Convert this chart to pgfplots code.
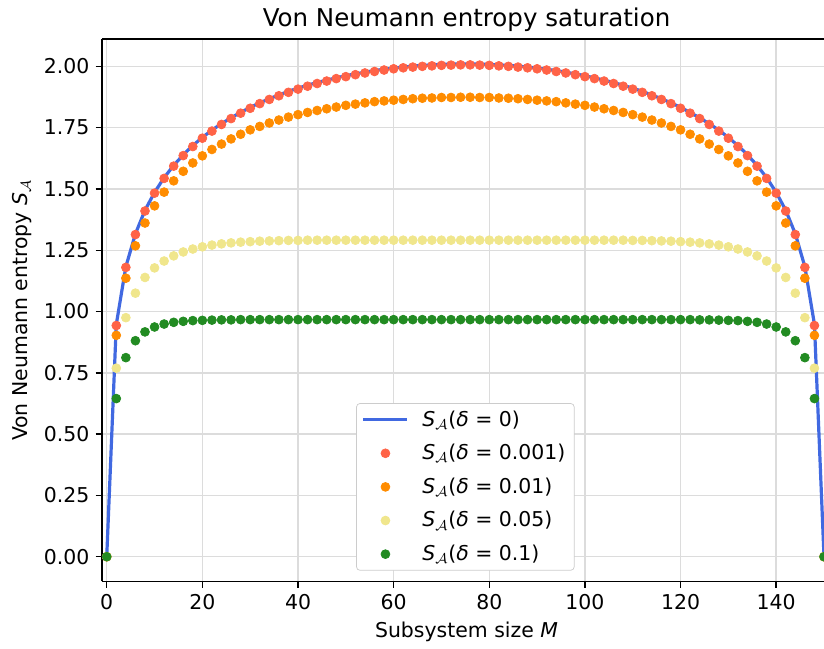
\documentclass[border=0pt]{standalone}
\usepackage{fontspec}
\setmainfont{DejaVu Sans}
\usepackage{pgfplots}
\usepackage{pgfplotstable}
\pgfplotsset{compat=1.18}
\definecolor{royalblue}{HTML}{4169E1}
\definecolor{tomato}{HTML}{FF6347}
\definecolor{darkorange}{HTML}{FF8C00}
\definecolor{khaki}{HTML}{F0E68C}
\definecolor{forestgreen}{HTML}{228B22}
\definecolor{gridgray}{HTML}{DCDCDC}

\pgfplotstableread{
M s0 s1 s2 s3 s4
0 0 0 0 0 0
2 0.948 0.943 0.903 0.769 0.645
4 1.183 1.180 1.136 0.975 0.812
6 1.317 1.314 1.268 1.075 0.881
8 1.413 1.410 1.361 1.139 0.917
10 1.486 1.483 1.431 1.178 0.937
12 1.546 1.543 1.487 1.206 0.949
14 1.596 1.593 1.533 1.227 0.956
16 1.639 1.636 1.572 1.243 0.960
18 1.677 1.673 1.606 1.255 0.963
20 1.710 1.707 1.635 1.264 0.964
22 1.740 1.736 1.661 1.271 0.965
24 1.766 1.763 1.683 1.276 0.966
26 1.790 1.787 1.704 1.280 0.966
28 1.812 1.809 1.723 1.283 0.967
30 1.833 1.829 1.741 1.285 0.967
32 1.851 1.848 1.755 1.287 0.967
34 1.868 1.865 1.769 1.288 0.967
36 1.883 1.880 1.781 1.289 0.967
38 1.898 1.894 1.793 1.290 0.967
40 1.911 1.907 1.803 1.290 0.967
42 1.923 1.919 1.812 1.291 0.967
44 1.934 1.930 1.820 1.291 0.967
46 1.944 1.940 1.827 1.291 0.967
48 1.953 1.950 1.834 1.291 0.967
50 1.962 1.958 1.841 1.291 0.967
52 1.969 1.966 1.846 1.291 0.967
54 1.976 1.973 1.851 1.291 0.967
56 1.983 1.979 1.856 1.291 0.967
58 1.988 1.985 1.859 1.291 0.967
60 1.993 1.990 1.862 1.291 0.967
62 1.997 1.994 1.865 1.291 0.967
64 2.001 1.997 1.868 1.291 0.967
66 2.004 2.000 1.870 1.291 0.967
68 2.006 2.002 1.871 1.291 0.967
70 2.008 2.004 1.873 1.291 0.967
72 2.009 2.005 1.873 1.291 0.967
74 2.010 2.006 1.874 1.291 0.967
76 2.010 2.006 1.874 1.291 0.967
78 2.009 2.005 1.873 1.291 0.967
80 2.008 2.004 1.873 1.291 0.967
82 2.006 2.002 1.871 1.291 0.967
84 2.004 2.000 1.870 1.291 0.967
86 2.001 1.997 1.868 1.291 0.967
88 1.997 1.994 1.865 1.291 0.967
90 1.993 1.990 1.862 1.291 0.967
92 1.988 1.985 1.859 1.291 0.967
94 1.983 1.979 1.856 1.291 0.967
96 1.976 1.973 1.851 1.291 0.967
98 1.969 1.966 1.846 1.291 0.967
100 1.962 1.958 1.841 1.291 0.967
102 1.953 1.950 1.834 1.291 0.967
104 1.944 1.940 1.827 1.291 0.967
106 1.934 1.930 1.820 1.291 0.967
108 1.923 1.919 1.812 1.291 0.967
110 1.911 1.907 1.803 1.290 0.967
112 1.898 1.894 1.793 1.290 0.967
114 1.883 1.880 1.781 1.289 0.967
116 1.868 1.865 1.769 1.288 0.967
118 1.851 1.848 1.755 1.287 0.967
120 1.833 1.829 1.741 1.285 0.967
122 1.812 1.809 1.723 1.283 0.967
124 1.790 1.787 1.704 1.280 0.966
126 1.766 1.763 1.683 1.276 0.966
128 1.740 1.736 1.661 1.271 0.965
130 1.710 1.707 1.635 1.264 0.964
132 1.677 1.673 1.606 1.255 0.963
134 1.639 1.636 1.572 1.243 0.960
136 1.596 1.593 1.533 1.227 0.956
138 1.546 1.543 1.487 1.206 0.949
140 1.486 1.483 1.431 1.178 0.937
142 1.413 1.410 1.361 1.139 0.917
144 1.317 1.314 1.268 1.075 0.881
146 1.183 1.180 1.136 0.975 0.812
148 0.948 0.943 0.903 0.769 0.645
150 0 0 0 0 0
}\datatable

\begin{document}
\begin{tikzpicture}
\begin{axis}[
  scale only axis,
  width=406.5pt, height=305.2pt,
  xmin=-1, xmax=150, ymin=-0.1005, ymax=2.1105,
  axis x line*=box, axis y line*=left,
  tick pos=left, tick align=outside,
  major tick length=3.5pt,
  every tick/.style={black, line width=0.8pt},
  axis line style={black, line width=0.9pt},
  grid=major,
  major grid style={gridgray, line width=0.8pt},
  xtick={0,20,40,60,80,100,120,140},
  ytick={0,0.25,0.5,0.75,1,1.25,1.5,1.75,2},
  /pgf/number format/assume math mode=true,
  tick label style={font=\fontsize{11.5}{13.8}\selectfont},
  label style={font=\fontsize{11.5}{13.8}\selectfont},
  yticklabel style={/pgf/number format/fixed, /pgf/number format/fixed zerofill, /pgf/number format/precision=2},
  title={Von Neumann entropy saturation},
  title style={font=\fontsize{13.8}{16.5}\selectfont, yshift=-5pt, xshift=2pt},
  xlabel={Subsystem size \textit{M}},
  xlabel style={xshift=2pt},
  ylabel={Von Neumann entropy \textit{S}$_{\mathcal{A}}$},
  legend cell align=left,
  legend image code/.code={\draw[mark repeat=2,mark phase=2,#1] plot coordinates {(0pt,0pt) (12.4pt,0pt) (24.8pt,0pt)};},
  legend style={at={(0.5033,0.0197)}, anchor=south, draw=black!20, rounded corners=2pt,
    fill=white, row sep=4.7pt, column sep=5.5pt, font=\fontsize{11.5}{13.8}\selectfont},
]
\addplot[royalblue, line width=1.8pt] table[x=M, y=s0] {\datatable};
\addlegendentry{\textit{S}$_{\mathcal{A}}$(\textit{δ} = 0)}
\addplot[only marks, mark=*, mark size=2.5pt, color=tomato] table[x=M, y=s1] {\datatable};
\addlegendentry{\textit{S}$_{\mathcal{A}}$(\textit{δ} = 0.001)}
\addplot[only marks, mark=*, mark size=2.5pt, color=darkorange] table[x=M, y=s2] {\datatable};
\addlegendentry{\textit{S}$_{\mathcal{A}}$(\textit{δ} = 0.01)}
\addplot[only marks, mark=*, mark size=2.5pt, color=khaki] table[x=M, y=s3] {\datatable};
\addlegendentry{\textit{S}$_{\mathcal{A}}$(\textit{δ} = 0.05)}
\addplot[only marks, mark=*, mark size=2.5pt, color=forestgreen] table[x=M, y=s4] {\datatable};
\addlegendentry{\textit{S}$_{\mathcal{A}}$(\textit{δ} = 0.1)}
\end{axis}
\pgfresetboundingbox
\path[use as bounding box] ([xshift=-57.4pt,yshift=-37.9pt]current axis.south west) rectangle ([yshift=22.1pt]current axis.north east);
\end{tikzpicture}
\end{document}
